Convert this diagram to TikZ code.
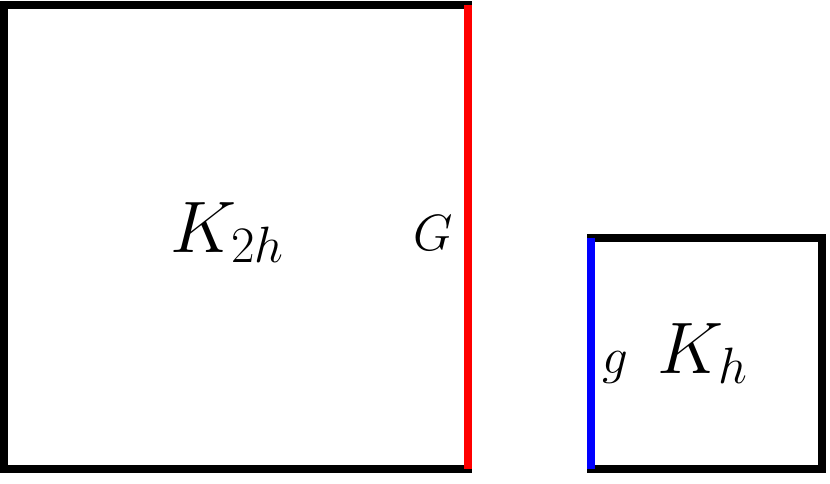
\RequirePackage{fix-cm}
\documentclass[tikz,border=0pt]{standalone}
\begin{document}
\begin{tikzpicture}[x=1pt,y=-1pt,
  box/.style={draw=black,line width=8pt},
  edgeline/.style={line width=8pt},
  biglabel/.style={anchor=base,inner sep=0pt,font=\fontsize{73}{80}\selectfont},
  smalllabel/.style={anchor=base,inner sep=0pt,font=\fontsize{51}{56}\selectfont}]
\useasboundingbox (0,0) rectangle (830,483);
\coordinate (A1) at (4,5);
\coordinate (A2) at (468,469);
\coordinate (B1) at (591,237.5);
\coordinate (B2) at (822,469);
\draw[box] (A1) rectangle (A2);
\draw[box] (B1) rectangle (B2);
\coordinate (Rt) at (468,5);
\coordinate (Lb) at (591,469);
\draw[edgeline,red] (Rt) -- (A2);
\draw[edgeline,blue] (B1) -- (Lb);
\node[biglabel] (K2h) at (227,252) {$K_{2h}$};
\node[smalllabel] (G) at (433,250) {$G$};
\node[smalllabel] (g) at (615,373) {$g$};
\node[biglabel] (Kh) at (703,373) {$K_h$};
\end{tikzpicture}
\end{document}
